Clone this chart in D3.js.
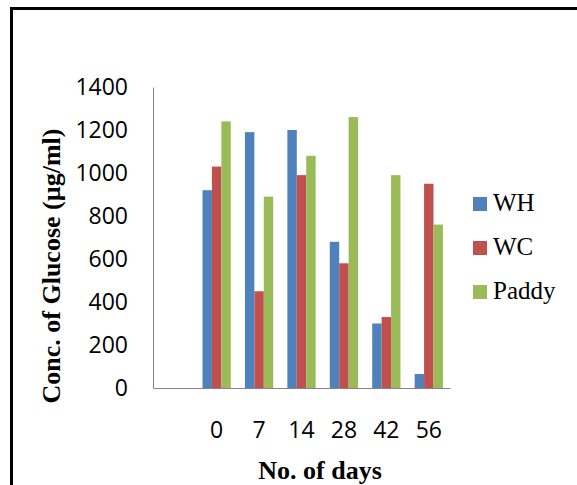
<!DOCTYPE html>
<html>
<head>
<meta charset="utf-8">
<script src="https://cdn.jsdelivr.net/npm/d3@7"></script>
<style>
  html, body { margin: 0; padding: 0; background: #fff; }
  svg { display: block; }
</style>
</head>
<body>
<div id="chart"></div>
<script>
// data
const days = ["", "0", "7", "14", "28", "42", "56"]; // first slot is empty in the original
const series = ["WH", "WC", "Paddy"];
const colors = ["#4F81BD", "#C0504D", "#9BBB59"];
const WH = [null, 920, 1190, 1200, 680, 300, 65];
const WC = [null, 1030, 450, 990, 580, 330, 950];
const Paddy = [null, 1240, 890, 1080, 1260, 990, 760];
const yTicks = [0, 200, 400, 600, 800, 1000, 1200, 1400];

const values = [WH, WC, Paddy];

const width = 577, height = 485;
const svg = d3.select("#chart").append("svg").attr("width", width).attr("height", height);

// frame (cut off at right and bottom)
svg.append("rect")
  .attr("x", 11.5).attr("y", 8.5)
  .attr("width", 600).attr("height", 500)
  .attr("fill", "none").attr("stroke", "#000").attr("stroke-width", 3);

const plot = { left: 153, right: 450, top: 87, bottom: 388 };

// scales
const x0 = d3.scaleBand().domain(days).range([plot.left, plot.right]);
const step = x0.bandwidth();
const barW = step / 4.5; // gap width 150%
const x1 = d3.scaleBand().domain(series).range([barW * 0.75, barW * 3.75]);
const y = d3.scaleLinear().domain([0, 1400]).range([plot.bottom, plot.top]);

// bars
series.forEach((s, i) => {
  svg.append("g")
    .selectAll("rect")
    .data(days.map((d, j) => ({ day: d, v: values[i][j] })).filter(d => d.v != null))
    .join("rect")
    .attr("x", d => x0(d.day) + x1(s))
    .attr("width", x1.bandwidth())
    .attr("y", d => y(d.v))
    .attr("height", d => y(0) - y(d.v))
    .attr("fill", colors[i]);
});

// axes
const tickFont = "'Open Sans', sans-serif";
const yAxis = svg.append("g")
  .attr("transform", `translate(${plot.left},0)`)
  .call(d3.axisLeft(y).tickValues(yTicks).tickFormat(d3.format("d")).tickSize(0).tickPadding(25));
yAxis.select(".domain").attr("stroke", "#868686");
yAxis.selectAll("text")
  .attr("font-family", tickFont)
  .attr("font-size", 23).attr("fill", "#000");

const xAxis = svg.append("g")
  .attr("transform", `translate(0,${plot.bottom})`)
  .call(d3.axisBottom(x0).tickSize(0).tickPadding(34));
xAxis.select(".domain").attr("stroke", "#868686");
xAxis.selectAll("text")
  .attr("font-family", tickFont)
  .attr("font-size", 23).attr("fill", "#000");

// axis titles
svg.append("text")
  .attr("x", 320).attr("y", 479)
  .attr("text-anchor", "middle")
  .attr("font-family", "'Liberation Serif', 'Times New Roman', serif")
  .attr("font-weight", "bold").attr("font-size", 26)
  .text("No. of days");

svg.append("text")
  .attr("transform", "translate(60,266) rotate(-90)")
  .attr("text-anchor", "middle")
  .attr("font-family", "'Liberation Serif', 'Times New Roman', serif")
  .attr("font-weight", "bold").attr("font-size", 26)
  .text("Conc. of Glucose (µg/ml)");

// legend
const legend = svg.append("g")
  .selectAll("g")
  .data(series)
  .join("g")
  .attr("transform", (d, i) => `translate(473,${197 + i * 44})`);
legend.append("rect")
  .attr("width", 14).attr("height", 14)
  .attr("fill", (d, i) => colors[i]);
legend.append("text")
  .attr("x", 20).attr("y", 14)
  .attr("font-family", "'Liberation Serif', 'Times New Roman', serif")
  .attr("font-size", 25)
  .text(d => d);
</script>
</body>
</html>
